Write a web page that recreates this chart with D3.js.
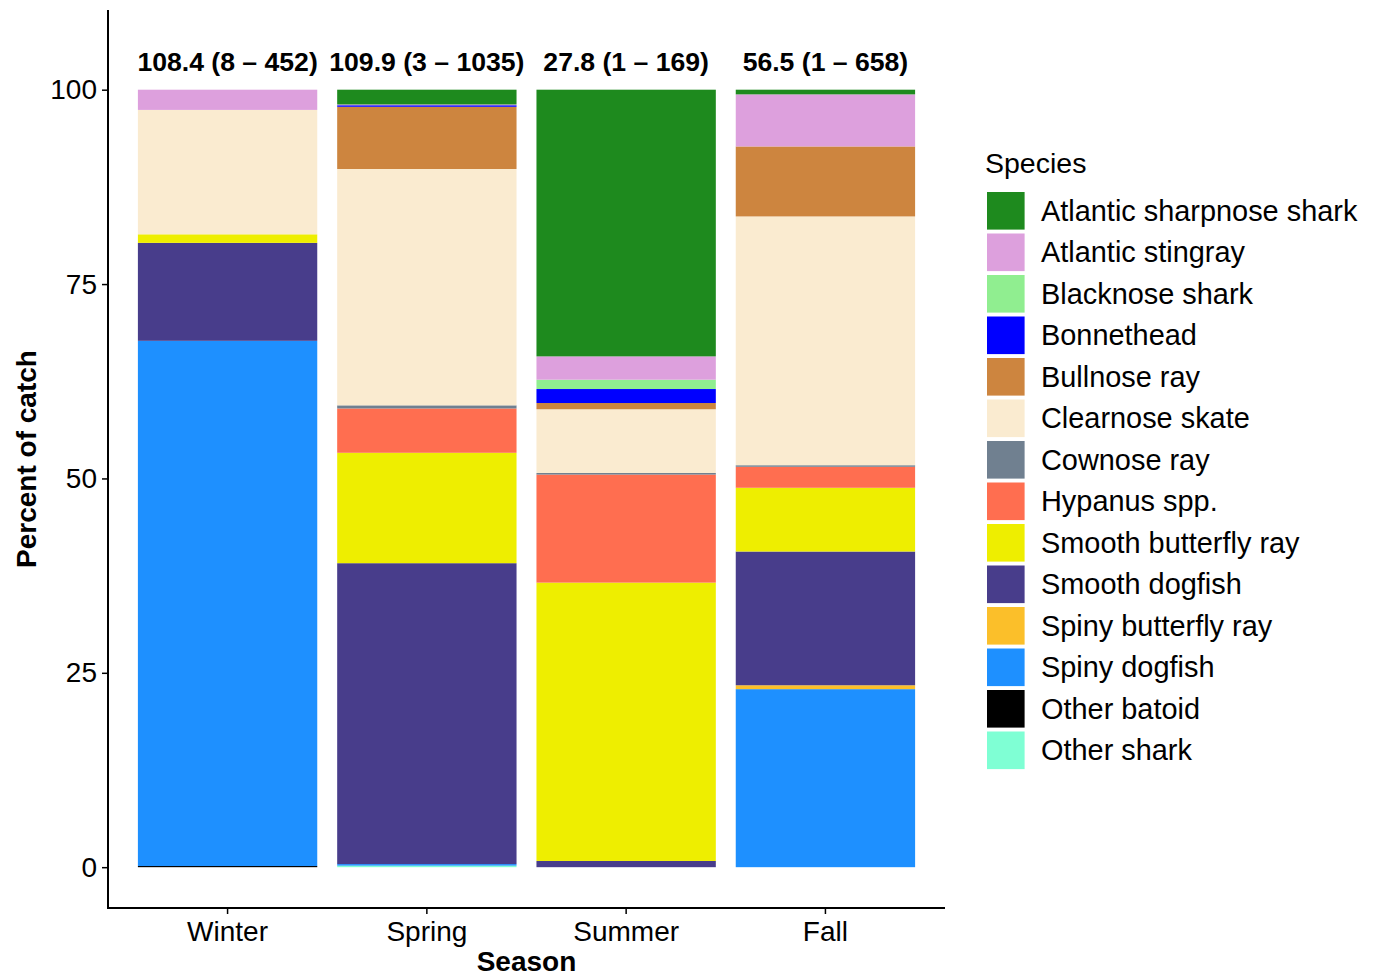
<!DOCTYPE html>
<html>
<head>
<meta charset="utf-8">
<script src="https://cdn.jsdelivr.net/npm/d3@7"></script>
<style>
  html, body { margin: 0; padding: 0; background: #fff; }
  svg { display: block; font-family: "Liberation Sans", Arial, Helvetica, sans-serif; }
</style>
</head>
<body>
<svg id="chart" width="1376" height="978"></svg>
<script>
// Seasons on the x axis
const seasons = ["Winter", "Spring", "Summer", "Fall"];

// Species in legend order (top of the stack first)
const species = [
  "Atlantic sharpnose shark", "Atlantic stingray", "Blacknose shark", "Bonnethead",
  "Bullnose ray", "Clearnose skate", "Cownose ray", "Hypanus spp.",
  "Smooth butterfly ray", "Smooth dogfish", "Spiny butterfly ray", "Spiny dogfish",
  "Other batoid", "Other shark"
];

const speciesColors = [
  "#1E8A1E", "#DDA0DD", "#90EE90", "#0000FF",
  "#CD853F", "#FAEBD0", "#708090", "#FF6E50",
  "#EEEE00", "#483D8B", "#FBBF2A", "#1E90FF",
  "#000000", "#7FFFD4"
];

// Percent of catch per species, one array per season (same order as species)
const winterPct = [0, 2.6, 0, 0, 0, 16.0, 0, 0, 1.1, 12.6, 0, 67.55, 0.15, 0];
const springPct = [1.9, 0.1, 0, 0.2, 8.0, 30.4, 0.4, 5.7, 14.2, 38.7, 0, 0.2, 0, 0.2];
const summerPct = [34.3, 3.0, 1.2, 1.8, 0.8, 8.2, 0.2, 13.9, 35.8, 0.8, 0, 0, 0, 0];
const fallPct   = [0.6, 6.7, 0, 0, 9.0, 32.0, 0.2, 2.7, 8.2, 17.2, 0.5, 22.9, 0, 0];

// Mean catch (range) printed above each bar
const catchLabels = ["108.4 (8 \u2013 452)", "109.9 (3 \u2013 1035)", "27.8 (1 \u2013 169)", "56.5 (1 \u2013 658)"];

const yTicks = [0, 25, 50, 75, 100];

const seasonValues = [winterPct, springPct, summerPct, fallPct];
const rows = seasons.map((s, i) => {
  const r = { season: s };
  species.forEach((sp, j) => { r[sp] = seasonValues[i][j]; });
  return r;
});

const svg = d3.select("#chart");

const plotLeft = 108, plotRight = 945, plotTop = 10, plotBottom = 908;

const x = d3.scaleBand()
  .domain(seasons)
  .range([plotLeft, plotRight])
  .paddingInner(0.1)
  .paddingOuter(0.15);

const y = d3.scaleLinear()
  .domain([-5.25, 110.25])
  .range([plotBottom, plotTop]);

const color = d3.scaleOrdinal().domain(species).range(speciesColors);

// Stack from the bottom: last legend entry sits at the base
const stackKeys = species.slice().reverse();
const stacked = d3.stack().keys(stackKeys)(rows);

const barsG = svg.append("g");
stacked.forEach(layer => {
  barsG.selectAll(null)
    .data(layer)
    .join("rect")
    .attr("x", d => x(d.data.season))
    .attr("width", x.bandwidth())
    .attr("y", d => y(d[1]))
    .attr("height", d => Math.max(0, y(d[0]) - y(d[1])))
    .attr("fill", color(layer.key));
});

// Labels above bars
svg.append("g").selectAll("text")
  .data(seasons)
  .join("text")
  .attr("x", d => x(d) + x.bandwidth() / 2)
  .attr("y", y(103.6))
  .attr("dy", "0.35em")
  .attr("text-anchor", "middle")
  .attr("font-size", 26.6)
  .attr("font-weight", "bold")
  .attr("fill", "#000")
  .text((d, i) => catchLabels[i]);

// Y axis
const yAxis = d3.axisLeft(y).tickValues(yTicks).tickSize(6).tickPadding(5);
const yG = svg.append("g").attr("transform", `translate(${plotLeft},0)`).call(yAxis);
yG.select(".domain").remove();
yG.selectAll(".tick line").attr("stroke", "#000").attr("stroke-width", 1.5);
yG.selectAll(".tick text").attr("font-size", 28).attr("fill", "#000")
  .attr("font-family", "'Liberation Sans', Arial, sans-serif");
svg.append("line").attr("x1", plotLeft).attr("x2", plotLeft).attr("y1", plotTop).attr("y2", plotBottom + 1)
  .attr("stroke", "#000").attr("stroke-width", 2);

// X axis
const xAxis = d3.axisBottom(x).tickSize(6).tickPadding(7);
const xG = svg.append("g").attr("transform", `translate(0,${plotBottom})`).call(xAxis);
xG.select(".domain").remove();
xG.selectAll(".tick line").attr("stroke", "#000").attr("stroke-width", 1.5);
xG.selectAll(".tick text").attr("font-size", 28).attr("fill", "#000")
  .attr("font-family", "'Liberation Sans', Arial, sans-serif");
svg.append("line").attr("x1", plotLeft - 1).attr("x2", plotRight).attr("y1", plotBottom).attr("y2", plotBottom)
  .attr("stroke", "#000").attr("stroke-width", 2);

// Axis titles
svg.append("text")
  .attr("x", (plotLeft + plotRight) / 2)
  .attr("y", 971)
  .attr("text-anchor", "middle")
  .attr("font-size", 28)
  .attr("font-weight", "bold")
  .text("Season");

svg.append("text")
  .attr("transform", `translate(36,${459}) rotate(-90)`)
  .attr("text-anchor", "middle")
  .attr("font-size", 28)
  .attr("font-weight", "bold")
  .text("Percent of catch");

// Legend
const legend = svg.append("g").attr("transform", "translate(985,0)");
legend.append("text")
  .attr("x", 0)
  .attr("y", 173)
  .attr("font-size", 28.5)
  .text("Species");

const keySize = 37.6, keyStep = 41.5, keyTop = 192;
const items = legend.selectAll("g.item")
  .data(species)
  .join("g")
  .attr("class", "item")
  .attr("transform", (d, i) => `translate(2,${keyTop + i * keyStep})`);
items.append("rect")
  .attr("width", keySize)
  .attr("height", keySize)
  .attr("fill", d => color(d));
items.append("text")
  .attr("x", 54)
  .attr("y", keySize / 2)
  .attr("dy", "0.35em")
  .attr("font-size", 28.9)
  .text(d => d);
</script>
</body>
</html>
